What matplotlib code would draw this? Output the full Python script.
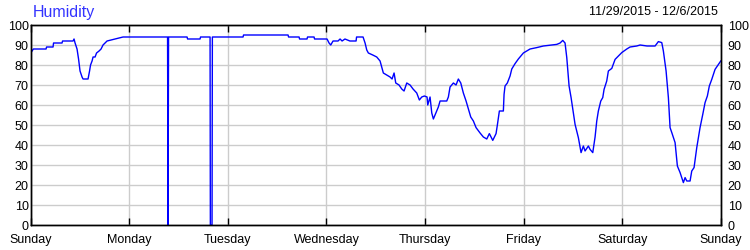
import matplotlib
matplotlib.use("Agg")
import matplotlib.pyplot as plt

plt.rcParams['font.family'] = ['Liberation Sans', 'DejaVu Sans']

title = "Humidity"
date_range = "11/29/2015 - 12/6/2015"
day_labels = ["Sunday", "Monday", "Tuesday", "Wednesday", "Thursday", "Friday", "Saturday", "Sunday"]
y_ticks = [0, 10, 20, 30, 40, 50, 60, 70, 80, 90, 100]

# hours since Sunday 00:00
hours = [0.0, 0.63, 3.73, 3.85, 5.43, 5.55, 7.62, 7.74, 10.30, 10.54, 10.79, 11.27, 11.64, 12.0,
         12.49, 12.73, 13.95, 14.32, 14.56, 14.93, 15.17, 15.66, 16.02, 16.63, 17.12, 17.60, 18.58,
         20.53, 22.47, 33.31, 33.43, 33.55, 38.06, 38.18, 41.22, 41.34, 43.66, 43.73, 44.14, 44.22,
         51.69, 51.81, 62.65, 62.77, 65.33, 65.45, 67.27, 67.39, 68.98, 69.10, 72.14, 72.63, 73.04,
         73.60, 74.82, 75.31, 75.8, 76.5, 77.7, 79.21, 79.33, 80.91, 81.40, 81.81, 82.20, 83.27,
         84.24, 85.05, 85.46, 85.85, 86.68, 87.48, 87.97, 88.46, 88.87, 89.67, 90.33, 90.89, 91.55,
         92.35, 93.08, 93.98, 94.62, 95.20, 95.84, 96.49, 96.66, 97.22, 97.64, 98.03, 98.44, 99.24,
         99.66, 101.29, 101.68, 102.09, 102.90, 103.55, 104.11, 104.70, 105.33, 105.99, 106.55,
         107.13, 107.77, 108.42, 109.40, 110.20, 111.03, 111.66, 112.49, 113.29, 113.61, 114.10,
         115.07, 115.24, 115.48, 116.04, 116.70, 117.12, 117.92, 118.72, 119.94, 121.57, 123.20,
         124.81, 128.07, 128.88, 129.53, 130.09, 130.51, 131.07, 131.56, 132.53, 133.33, 133.99,
         134.55, 134.96, 135.77, 136.18, 136.84, 137.40, 137.81, 138.20, 138.79, 139.27, 139.59,
         140.24, 140.64, 141.47, 142.27, 143.08, 143.90, 145.12, 145.92, 147.55, 148.36, 150.06,
         152.01, 152.81, 153.64, 154.03, 154.69, 155.25, 155.66, 156.08, 156.88, 157.44, 158.10,
         158.90, 159.32, 159.73, 160.53, 160.94, 161.50, 162.16, 162.96, 163.62, 164.18, 164.74,
         165.22, 165.81, 166.61, 167.42, 168.0]
humidity = [86, 88, 88, 89, 89, 91, 91, 92, 92, 93, 91, 88, 83, 77,
            74, 73, 73, 77, 80, 82, 84, 84, 86, 87, 88, 90, 92,
            93, 94, 94, 0, 94, 94, 93, 93, 94, 94, 0, 0, 94,
            94, 95, 95, 94, 94, 93, 93, 94, 94, 93, 93, 91, 90,
            92, 92, 93, 92, 93, 92, 92, 94, 94, 91, 87.5, 86, 85,
            84, 82, 79, 76, 75, 74, 73, 76, 71, 70, 68, 67, 71,
            70, 68, 66, 62.5, 64, 64.5, 64, 60, 64, 56, 53, 55, 59,
            62, 62, 64, 69, 71, 70, 73, 71, 66, 62, 58,
            54, 52, 48.7, 46, 44, 43, 45.7, 42.3, 45.7, 50, 57,
            57, 65.3, 69.5, 71, 74.5, 78, 80.7, 83, 86, 88, 88.7,
            89.5, 90.3, 91, 92.3, 91, 83.7, 69.5, 63.7, 50.3, 43.7, 36.2,
            39.5, 37, 39.5, 37.8, 36.2, 44, 52, 57, 62, 63.7, 67.8,
            72, 77, 78.3, 82.8, 84.5, 86.2, 88, 89, 89.5, 90, 89.5,
            89.5, 91.7, 91.2, 87, 77, 63.7, 48.7, 46.2, 41.2, 29.5, 26.2,
            21.2, 23.7, 22, 22, 27, 28.7, 38.7, 48.7, 55.3, 61.2, 64.5,
            69.5, 72.8, 77.8, 80.3, 82]

fig = plt.figure(figsize=(7.5, 2.5), dpi=100)
ax = fig.add_axes([0.041, 0.1, 0.92, 0.8])

ax.plot(hours, humidity, color='#0000ff', linewidth=1.0)

ax.set_xlim(0, 168)
ax.set_ylim(0, 100)
ax.set_xticks([24 * i for i in range(len(day_labels))])
ax.set_xticklabels(day_labels)
ax.set_yticks(y_ticks)

ax.grid(True, color='#cccccc', linewidth=1.0)
ax.set_axisbelow(True)
for s in ax.spines.values():
    s.set_color('black')
    s.set_linewidth(1.0)

ax.tick_params(axis='x', direction='in', length=5, width=1, top=True, bottom=True,
               labelsize=9, pad=6.5, colors='black')
ax.tick_params(axis='y', length=0, left=True, right=False, labelleft=True, labelright=False,
               labelsize=9, colors='black', pad=1.5)

ax2 = ax.twinx()
ax2.set_ylim(0, 100)
ax2.set_yticks(y_ticks)
ax2.tick_params(axis='y', length=0, labelsize=9, colors='black', pad=5)
for s in ax2.spines.values():
    s.set_color('black')
    s.set_linewidth(1.0)

fig.text(0.044, 0.952, title, color='#3333ff', fontsize=11.5, ha='left', va='center')
fig.text(0.957, 0.952, date_range, color='black', fontsize=9, ha='right', va='center')

fig.savefig("out.png", dpi=100)
